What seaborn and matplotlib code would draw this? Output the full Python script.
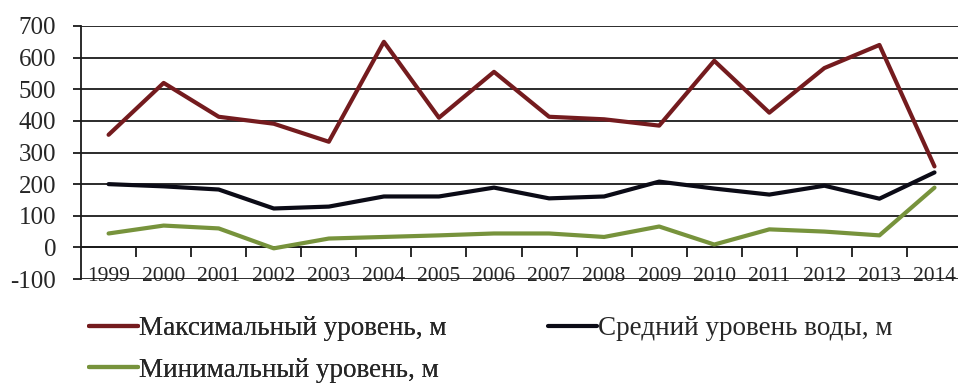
import numpy as np
import pandas as pd
import matplotlib
matplotlib.use("Agg")
import matplotlib.pyplot as plt
import seaborn as sns

years = [1999, 2000, 2001, 2002, 2003, 2004, 2005, 2006,
         2007, 2008, 2009, 2010, 2011, 2012, 2013, 2014]
max_level = [356, 520, 413, 391, 334, 650, 410, 555,
             413, 405, 385, 590, 426, 567, 640, 256]
mean_level = [200, 193, 183, 123, 129, 161, 161, 189,
              155, 161, 208, 186, 167, 195, 154, 237]
min_level = [44, 69, 60, -3, 28, 33, 38, 44,
             44, 33, 66, 9, 57, 50, 38, 189]

series_names = ["Максимальный уровень, м",
                "Средний уровень воды, м",
                "Минимальный уровень, м"]
series_colors = ["#741b1e", "#0b0b16", "#77933c"]
y_ticks = [-100, 0, 100, 200, 300, 400, 500, 600, 700]

df = pd.concat([
    pd.DataFrame({"Год": years, "Уровень": vals, "Ряд": name})
    for name, vals in zip(series_names, [max_level, mean_level, min_level])
], ignore_index=True)

sns.set_theme(style="white")
plt.rcParams["font.family"] = ["Liberation Serif", "DejaVu Serif"]

fig = plt.figure(figsize=(9.58, 3.92), dpi=100)
ax = fig.add_axes([0.0846, 0.2870, 0.9196, 0.6467])

sns.lineplot(data=df, x="Год", y="Уровень", hue="Ряд",
             hue_order=series_names, palette=series_colors,
             linewidth=3.0, ax=ax, legend=False, zorder=3)

ax.set_xlim(years[0] - 0.5, years[-1] + 0.5)
ax.set_ylim(-101.5, 700)
ax.set_yticks(y_ticks)
ax.set_yticklabels([str(v) for v in y_ticks], fontsize=18)
ax.yaxis.grid(True, color="#1a1a1a", linewidth=1.3)
ax.set_axisbelow(True)

# category axis crosses at zero; tick marks sit between categories
ax.spines["bottom"].set_position(("data", 0))
ax.spines["bottom"].set_color("#1a1a1a")
ax.spines["bottom"].set_linewidth(1.3)
ax.spines["left"].set_color("#1a1a1a")
ax.spines["left"].set_linewidth(1.3)
ax.spines["top"].set_visible(False)
ax.spines["right"].set_visible(False)

boundaries = [y + 0.5 for y in years[:-1]]
ax.set_xticks(boundaries)
ax.set_xticklabels([])
ax.set_xticks(years, minor=True)
ax.set_xticklabels([str(y) for y in years], minor=True, fontsize=15.5)
ax.tick_params(axis="x", which="major", length=7, width=1.3,
               direction="out", color="#1a1a1a", bottom=True)
ax.tick_params(axis="x", which="minor", length=0, pad=14, bottom=True)
ax.tick_params(axis="y", length=6, width=1.3, direction="out",
               color="#1a1a1a", left=True, pad=12)
ax.set_xlabel("")
ax.set_ylabel("")

handles = [plt.Line2D([], [], color=c, linewidth=3.0) for c in series_colors]
legend_style = dict(loc="upper left", frameon=False, fontsize=19.5,
                    handlelength=1.8, handletextpad=0.05,
                    labelspacing=0.6, borderpad=0, borderaxespad=0)
leg_left = fig.legend([handles[0], handles[2]],
                      [series_names[0], series_names[2]],
                      bbox_to_anchor=(0.0929, 0.193), **legend_style)
fig.add_artist(leg_left)
fig.legend([handles[1]], [series_names[1]],
           bbox_to_anchor=(0.572, 0.193), **legend_style)

fig.savefig("out.png", dpi=100, facecolor="white")
